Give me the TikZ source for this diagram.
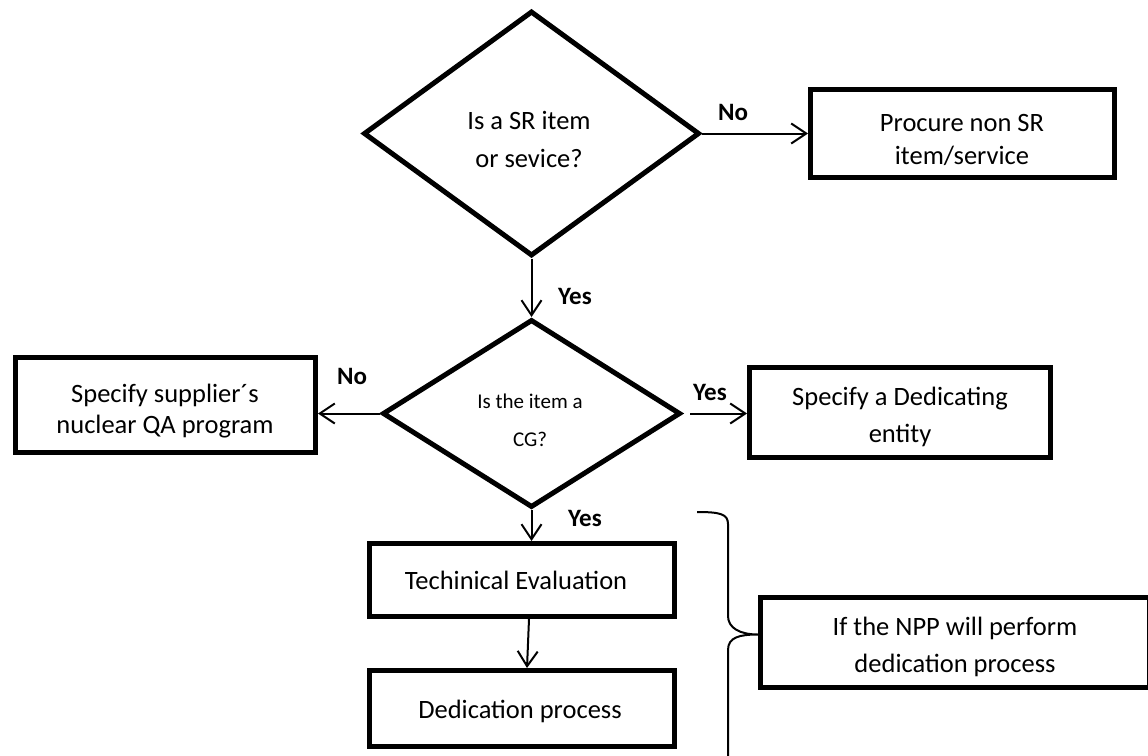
\documentclass[tikz,border=0pt]{standalone}
\usepackage{fontspec}
\setmainfont{Carlito}
\usetikzlibrary{shapes.geometric,arrows.meta}
\begin{document}
\begin{tikzpicture}[x=1pt,y=-1pt,
  box/.style={draw, line width=5pt, rectangle, inner sep=0pt},
  dia/.style={draw, line width=5pt, diamond, inner sep=0pt},
  txt/.style={align=center, inner sep=0pt, font=\fontsize{26.5}{#1}\selectfont},
  txt/.default=35,
  smalltxt/.style={align=center, inner sep=0pt, font=\fontsize{21}{38}\selectfont},
  lab/.style={inner sep=0pt, font=\bfseries\fontsize{25}{30}\selectfont},
  arr/.style={line width=2pt, -{Straight Barb[length=15pt,width=20pt]}}]
\useasboundingbox (0,0) rectangle (1148,755);
\clip (0,0) rectangle (1148,755);

% shapes
\node[dia, minimum width=336, minimum height=245] (d1) at (531.5,133.5) {};
\node[dia, minimum width=298, minimum height=188] (d2) at (531.5,413.5) {};
\node[box, minimum width=304, minimum height=88] (b1) at (962.5,133.5) {};
\node[box, minimum width=300, minimum height=95] (b2) at (165.5,405) {};
\node[box, minimum width=301, minimum height=90] (b3) at (900,412.5) {};
\node[box, minimum width=305, minimum height=73] (te) at (522,580) {};
\node[box, minimum width=305, minimum height=76] (dp) at (522,708.5) {};
\node[box, minimum width=389, minimum height=90] (npp) at (955,642.5) {};

% texts
\node[txt=38] (t1) at (529,139) {Is a SR item\\or sevice?};
\node[txt=33] (t2) at (962,140) {Procure non SR\\item/service};
\node[txt=31] (t3) at (165,411) {Specify supplier´s\\nuclear QA program};
\node[smalltxt] (t4) at (530,420) {Is the item a\\CG?};
\node[txt=37] (t5) at (900,417) {Specify a Dedicating\\entity};
\node[txt] (t6) at (516,580) {Techinical Evaluation};
\node[txt] (t7) at (520,711) {Dedication process};
\node[txt=37] (t8) at (955,647) {If the NPP will perform\\dedication process};

% connectors
\draw[arr] (d1.east) -- (d1.east -| b1.west);
\draw[arr] (d1.south) -- (d2.north);
\draw[arr] (d2.west) -- (d2.west -| b2.east);
\draw[arr] ([xshift=7pt]d2.east) -- (d2.east -| b3.west);
\draw[arr] (d2.south) -- (d2.south |- te.north);
\draw[arr] ([xshift=7pt]te.south) -- ([xshift=5pt]dp.north);

% labels
\node[lab] (l1) at (733,112) {No};
\node[lab] (l2) at (575,296) {Yes};
\node[lab] (l3) at (352,376) {No};
\node[lab] (l4) at (710,392) {Yes};
\node[lab] (l5) at (585,518) {Yes};

% brace
\coordinate (tip) at ([yshift=8pt]npp.west);
\draw[line width=2pt] (697,512) .. controls (720,512) and (728,514) .. (728,524)
  -- (728,616) .. controls (728,628) and (740,634.5) .. (tip)
  .. controls (740,634.5) and (728,637) .. (728,650) -- (728,760);
\end{tikzpicture}
\end{document}
